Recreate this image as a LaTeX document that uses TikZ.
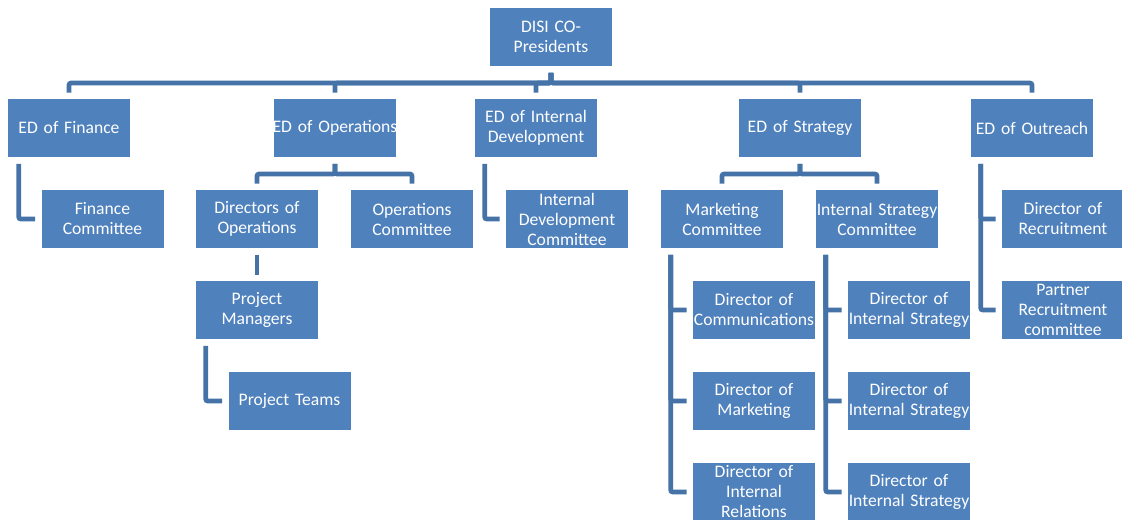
\documentclass[tikz,border=0pt]{standalone}
\usepackage{fontspec}
\setmainfont{Carlito}
\usetikzlibrary{calc}
\definecolor{boxblue}{RGB}{79,129,189}
\definecolor{linkblue}{RGB}{69,114,167}
\begin{document}
\begin{tikzpicture}[x=0.75pt,y=-0.75pt,
  orgbox/.style={rectangle, fill=boxblue, text=white, text width=103.5pt, inner xsep=-6pt, inner ysep=0pt,
    minimum height=43.5pt, align=center, font=\fontsize{13.2}{15}\selectfont},
  conn/.style={draw=linkblue, line width=3.5pt, rounded corners=1.5pt, shorten <=5pt, shorten >=4.5pt}]
\useasboundingbox (0,0) rectangle (1122,519);
\clip (0,0) rectangle (1122,519);
% nodes
\node[orgbox] (pres) at (551,37) {DISI CO-\\Presidents};
\node[orgbox] (edfin) at (69,128) {ED of Finance};
\node[orgbox] (edops) at (335,128) {ED of Operations};
\node[orgbox] (edid) at (536,128) {ED of Internal\\Development};
\node[orgbox] (edstr) at (800,128) {ED of Strategy};
\node[orgbox] (edout) at (1032,128) {ED of Outreach};
\node[orgbox] (fincom) at (102.5,219) {Finance\\Committee};
\node[orgbox] (dirops) at (257,219) {Directors of\\Operations};
\node[orgbox] (opscom) at (412,219) {Operations\\Committee};
\node[orgbox] (idcom) at (567,219) {Internal\\Development\\Committee};
\node[orgbox] (mktcom) at (722,219) {Marketing\\Committee};
\node[orgbox] (iscom) at (877,219) {Internal Strategy\\Committee};
\node[orgbox] (drec) at (1063,219) {Director of\\Recruitment};
\node[orgbox] (pm) at (257,310) {Project\\Managers};
\node[orgbox] (dcomm) at (754,310) {Director of\\Communications};
\node[orgbox] (dis1) at (909,310) {Director of\\Internal Strategy};
\node[orgbox] (prc) at (1063,310) {Partner\\Recruitment\\committee};
\node[orgbox] (pt) at (289.5,401) {Project Teams};
\node[orgbox] (dmkt) at (754,401) {Director of\\Marketing};
\node[orgbox] (dis2) at (909,401) {Director of\\Internal Strategy};
\node[orgbox] (dir) at (754,492) {Director of\\Internal\\Relations};
\node[orgbox] (dis3) at (909,492) {Director of\\Internal Strategy};
% connectors
\coordinate (bar0) at (551,83);
\foreach \c in {edfin,edops,edid,edstr,edout}
  \draw[conn] (pres.south) -- (bar0) -| (\c.north);
\coordinate (bar1) at (335,174);
\foreach \c in {dirops,opscom}
  \draw[conn] (edops.south) -- (bar1) -| (\c.north);
\coordinate (bar2) at (800,174);
\foreach \c in {mktcom,iscom}
  \draw[conn] (edstr.south) -- (bar2) -| (\c.north);
\draw[conn] (dirops.south) -- (pm.north);
\draw[conn] ($(edfin.south west)+(11,0)$) |- (fincom.west);
\draw[conn] ($(pm.south west)+(10,0)$) |- (pt.west);
\draw[conn] ($(edid.south west)+(10,0)$) |- (idcom.west);
\foreach \c in {dcomm,dmkt,dir}
  \draw[conn] ($(mktcom.south west)+(10,0)$) |- (\c.west);
\foreach \c in {dis1,dis2,dis3}
  \draw[conn] ($(iscom.south west)+(10,0)$) |- (\c.west);
\foreach \c in {drec,prc}
  \draw[conn] ($(edout.south west)+(10,0)$) |- (\c.west);
\end{tikzpicture}
\end{document}
